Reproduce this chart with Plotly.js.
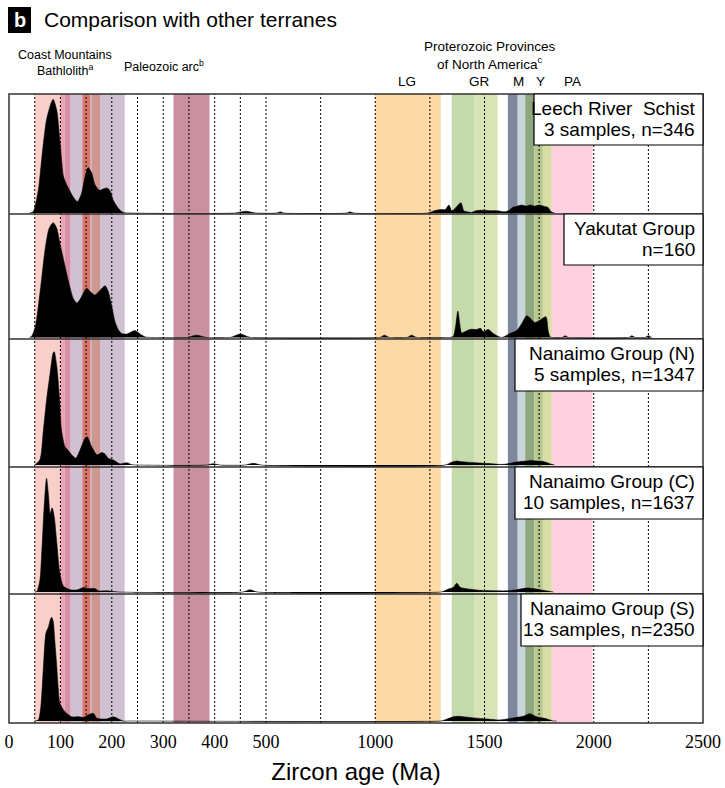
<!DOCTYPE html>
<html><head><meta charset="utf-8">
<script src="https://cdn.plot.ly/plotly-3.0.1.min.js"></script>
<style>body{margin:0;background:#fff}#chart{width:725px;height:788px}</style>
</head><body><div id="chart"></div>
<script>
// ---------- DATA ----------
const panelTitles = ["Leech River  Schist", "Yakutat Group", "Nanaimo Group (N)", "Nanaimo Group (C)", "Nanaimo Group (S)"];
const panelSubtitles = ["3 samples, n=346", "n=160", "5 samples, n=1347", "10 samples, n=1637", "13 samples, n=2350"];

const leechAge = [40,47,57,64,73,83,86,93,99,106,112,119,125,133,141,148,154,161,167,176,183,190,196,203,213,222,235, 440,460,480, 550,565,580, 870,885,900, 1240,1270,1300,1320,1337,1350,1365,1392,1405,1420,1440,1460,1490,1530,1560,1590,1610,1630,1650,1670,1690,1710,1730,1750,1770,1790,1805,1820];
const leechDensity = [0,0.01,0.2,0.49,0.82,0.98,1.0,0.9,0.64,0.32,0.25,0.19,0.14,0.1,0.17,0.32,0.4,0.35,0.25,0.2,0.21,0.22,0.2,0.11,0.04,0.005,0, 0,0.015,0, 0,0.01,0, 0,0.01,0, 0,0.02,0.03,0.03,0.07,0.02,0.04,0.09,0.02,0.01,0.005,0.02,0.025,0.02,0.02,0.01,0.02,0.05,0.06,0.07,0.06,0.07,0.06,0.07,0.06,0.05,0.01,0];

const yakutatAge = [40,44,51,57,64,70,78,86,93,99,106,112,119,125,132,138,145,151,158,167,177,187,193,200,206,213,219,229,245,255,265,280, 345,365,385, 430,450,470, 1020,1042,1065, 1145,1166,1190, 1340,1357,1368,1378,1388,1395,1410,1433,1464,1482,1494,1517,1540,1578,1617,1647,1670,1693,1708,1731,1753,1781,1791,1800,1810, 1855,1869,1885, 2160,2174,2190, 2235,2250,2265];
const yakutatDensity = [0,0.01,0.09,0.27,0.53,0.76,0.95,1.0,0.95,0.82,0.68,0.56,0.43,0.34,0.30,0.33,0.39,0.43,0.40,0.37,0.41,0.45,0.40,0.27,0.14,0.065,0.035,0.03,0.06,0.03,0.005,0, 0,0.02,0, 0,0.03,0, 0,0.02,0, 0,0.02,0, 0,0.01,0.1,0.23,0.1,0.04,0.05,0.07,0.07,0.08,0.05,0.07,0.035,0,0.035,0.06,0.12,0.19,0.17,0.13,0.15,0.18,0.06,0.005,0, 0,0.015,0, 0,0.015,0, 0,0.015,0];

const nanaimoNAge = [50,60,67,73,80,86,88,93,98,102,109,115,122,130,138,148,152,161,171,180,186,193,203,216,229,239,250, 385,397,410, 460,475,490, 1320,1350,1373,1390,1420,1460,1500,1540,1570,1600,1630,1660,1690,1710,1740,1770,1800,1820];
const nanaimoNDensity = [0,0.044,0.31,0.57,0.81,0.99,1.0,0.87,0.6,0.31,0.16,0.13,0.09,0.06,0.13,0.235,0.25,0.16,0.09,0.11,0.1,0.06,0.044,0.01,0.02,0.003,0, 0,0.012,0, 0,0.015,0, 0,0.025,0.035,0.03,0.025,0.02,0.015,0.01,0.005,0.008,0.02,0.03,0.035,0.04,0.035,0.03,0.01,0];

const nanaimoCAge = [50,54,60,64,68,73,77,80,84,88,93,98,102,106,119,132,145,154,167,174,190,203,215, 455,469,483, 1300,1311,1340,1357,1373,1390,1433,1478,1556,1601,1647,1693,1723,1753,1800,1815];
const nanaimoCDensity = [0,0.005,0.1,0.37,0.72,1.0,0.84,0.69,0.74,0.66,0.43,0.19,0.1,0.05,0.02,0.018,0.04,0.03,0.03,0.01,0.01,0.005,0, 0,0.02,0, 0,0.005,0.03,0.04,0.077,0.04,0.025,0.015,0.01,0.01,0.02,0.035,0.03,0.02,0.005,0];

const nanaimoSAge = [50,57,62,67,72,77,80,83,86,89,93,96,99,106,112,122,135,145,154,164,171,190,203,213,222,235, 1300,1311,1357,1380,1449,1510,1571,1632,1677,1708,1739,1785,1815,1830];
const nanaimoSDensity = [0,0.01,0.14,0.52,0.85,0.91,0.97,1.0,0.96,0.78,0.52,0.3,0.17,0.106,0.074,0.04,0.04,0.035,0.058,0.074,0.026,0.02,0.04,0.02,0.0,0, 0,0.005,0.04,0.045,0.03,0.02,0.01,0.03,0.045,0.07,0.04,0.02,0,0];

// reference age bands [start, end]
const bandStart = [50, 100, 108, 120, 143, 161, 320, 1000, 1350, 1455, 1607, 1652, 1686, 1728, 1767, 1808];
const bandEnd   = [100, 108, 120, 225, 158, 177, 390, 1300, 1455, 1560, 1652, 1686, 1728, 1767, 1808, 1995];
const bandColor = ["#F8CFC9","#EBA3B6","#D88EA3","#CFC0D2","#D9786A","#CD968F","#C9919F","#FDD9A6","#C5DAAB","#D9E4B6","#7F879F","#C8D6DC","#8FA77E","#B7C88F","#D6DEA5","#FFD0E0"];

const gridAges = [50,100,150,200,250,300,350,400,450,500,750,1000,1250,1500,1750,2000,2250];
const tickAges = [0,100,200,300,400,500,1000,1500,2000,2500];
const tickLabels = ["0","100","200","300","400","500","1000","1500","2000","2500"];

// ---------- SCALE (piecewise axis: 0-500 Ma expanded) ----------
function t(a){ return a <= 500 ? a : 500 + (a - 500) * 0.425; }

// ---------- LAYOUT GEOMETRY ----------
const W = 725, Hh = 788, L = 9, R = 703, TOP = 94, BOT = 723;
const PW = R - L, PH = BOT - TOP;
const bounds = [94, 214, 339, 467, 594, 723];
const baseOff = [1, 1.5, 2, 2, 2];
const peakPx = [113.7, 114.8, 113.3, 113.7, 103.7];
const boxLeft = [534, 564, 515, 515, 521];
const boxH = [51, 51, 52, 52, 52];
const px2py = p => (BOT - p) / PH;
const px2pxX = p => (p - L) / PW;

const ages = [leechAge, yakutatAge, nanaimoNAge, nanaimoCAge, nanaimoSAge];
const dens = [leechDensity, yakutatDensity, nanaimoNDensity, nanaimoCDensity, nanaimoSDensity];

const traces = [];
const layout = {
  width: W, height: Hh,
  margin: {l: L, r: W - R, t: TOP, b: Hh - BOT},
  paper_bgcolor: "#fff", plot_bgcolor: "#fff",
  showlegend: false,
  font: {family: "Liberation Sans, Arial, sans-serif", color: "#000"},
  xaxis: {
    range: [0, t(2500)], anchor: "y5", showgrid: false, zeroline: false,
    showline: false, ticks: "", tickvals: tickAges.map(t), ticktext: tickLabels,
    ticklabelstandoff: 6,
    tickfont: {family: "'Liberation Serif', 'Times New Roman', 'DejaVu Serif', serif", size: 18, color: "#000"},
    title: {text: "Zircon age (Ma)", font: {size: 24, color: "#000"}, standoff: 12}
  },
  shapes: [], annotations: []
};

for (let k = 0; k < 5; k++) {
  const yName = k === 0 ? "y" : "y" + (k + 1);
  const axName = k === 0 ? "yaxis" : "yaxis" + (k + 1);
  const hpx = bounds[k + 1] - bounds[k];
  layout[axName] = {
    domain: [px2py(bounds[k + 1]), px2py(bounds[k])],
    range: [-baseOff[k] / peakPx[k], (hpx - baseOff[k]) / peakPx[k]],
    visible: false, showgrid: false, zeroline: false, fixedrange: true
  };
  traces.push({
    type: "scatter", mode: "lines", x: ages[k].map(t), y: dens[k],
    xaxis: "x", yaxis: yName, fill: "tozeroy", fillcolor: "#000",
    line: {color: "#000", width: 0.6, shape: "spline", smoothing: 0.7},
    hoverinfo: "skip"
  });
}

// bands
for (let i = 0; i < bandStart.length; i++) {
  layout.shapes.push({type: "rect", xref: "x", yref: "paper", x0: t(bandStart[i]), x1: t(bandEnd[i]),
    y0: 0, y1: 1, fillcolor: bandColor[i], line: {width: 0}, layer: "below"});
}
// dashed reference lines
gridAges.forEach(a => layout.shapes.push({type: "line", xref: "x", yref: "paper", x0: t(a), x1: t(a), y0: 0, y1: 1,
  line: {color: "#000", width: 1, dash: "2px,2px"}, layer: "below"}));
// panel dividers
for (let k = 1; k < 5; k++) {
  layout.shapes.push({type: "line", xref: "paper", yref: "paper", x0: 0, x1: 1, y0: px2py(bounds[k]), y1: px2py(bounds[k]),
    line: {color: "#333", width: 1.5}, layer: "above"});
}
layout.shapes.push({type: "rect", xref: "paper", yref: "paper", x0: 0, x1: 1, y0: 0, y1: 1,
  line: {color: "#333", width: 1.5}, layer: "above"});
// label boxes
for (let k = 0; k < 5; k++) {
  const top = bounds[k];
  layout.shapes.push({type: "rect", xref: "paper", yref: "paper", x0: px2pxX(boxLeft[k]), x1: 1,
    y0: px2py(top + boxH[k]), y1: px2py(top), fillcolor: "#fff", line: {color: "#000", width: 1.2}, layer: "above"});
  layout.annotations.push({xref: "paper", yref: "paper", x: 1, xanchor: "right", xshift: -6,
    y: px2py(top + 14.5), yanchor: "middle", text: panelTitles[k], showarrow: false, font: {size: 19}});
  layout.annotations.push({xref: "paper", yref: "paper", x: 1, xanchor: "right", xshift: -6,
    y: px2py(top + 35.5), yanchor: "middle", text: panelSubtitles[k], showarrow: false, font: {size: 19}});
}
// title block
layout.shapes.push({type: "rect", xref: "paper", yref: "paper", x0: px2pxX(8), x1: px2pxX(31), y0: px2py(33), y1: px2py(7),
  fillcolor: "#000", line: {width: 0}});
const ann = (x, y, text, size, anchor) => layout.annotations.push({xref: "paper", yref: "paper", x: px2pxX(x), y: px2py(y),
  xanchor: anchor || "center", yanchor: "middle", text: text, showarrow: false, font: {size: size}});
layout.annotations.push({xref: "paper", yref: "paper", x: px2pxX(19.5), y: px2py(20), text: "<b>b</b>", showarrow: false,
  font: {size: 20, color: "#fff"}, xanchor: "center", yanchor: "middle"});
ann(42, 20, "Comparison with other terranes", 21, "left");
ann(65, 55, "Coast Mountains", 12.5);
ann(65, 70, "Bathlolith<sup>a</sup>", 12.5);
ann(122, 66, "Paleozoic arc<sup>b</sup>", 12.5, "left");
ann(490, 47, "Proterozoic Provinces", 13.5);
ann(490, 63, "of North America<sup>c</sup>", 13.5);
ann(407, 82, "LG", 13.5);
ann(479, 82, "GR", 13.5);
ann(518, 82, "M", 13.5);
ann(540, 82, "Y", 13.5);
ann(572, 82, "PA", 13.5);

Plotly.newPlot("chart", traces, layout, {displayModeBar: false, staticPlot: true});
</script></body></html>
